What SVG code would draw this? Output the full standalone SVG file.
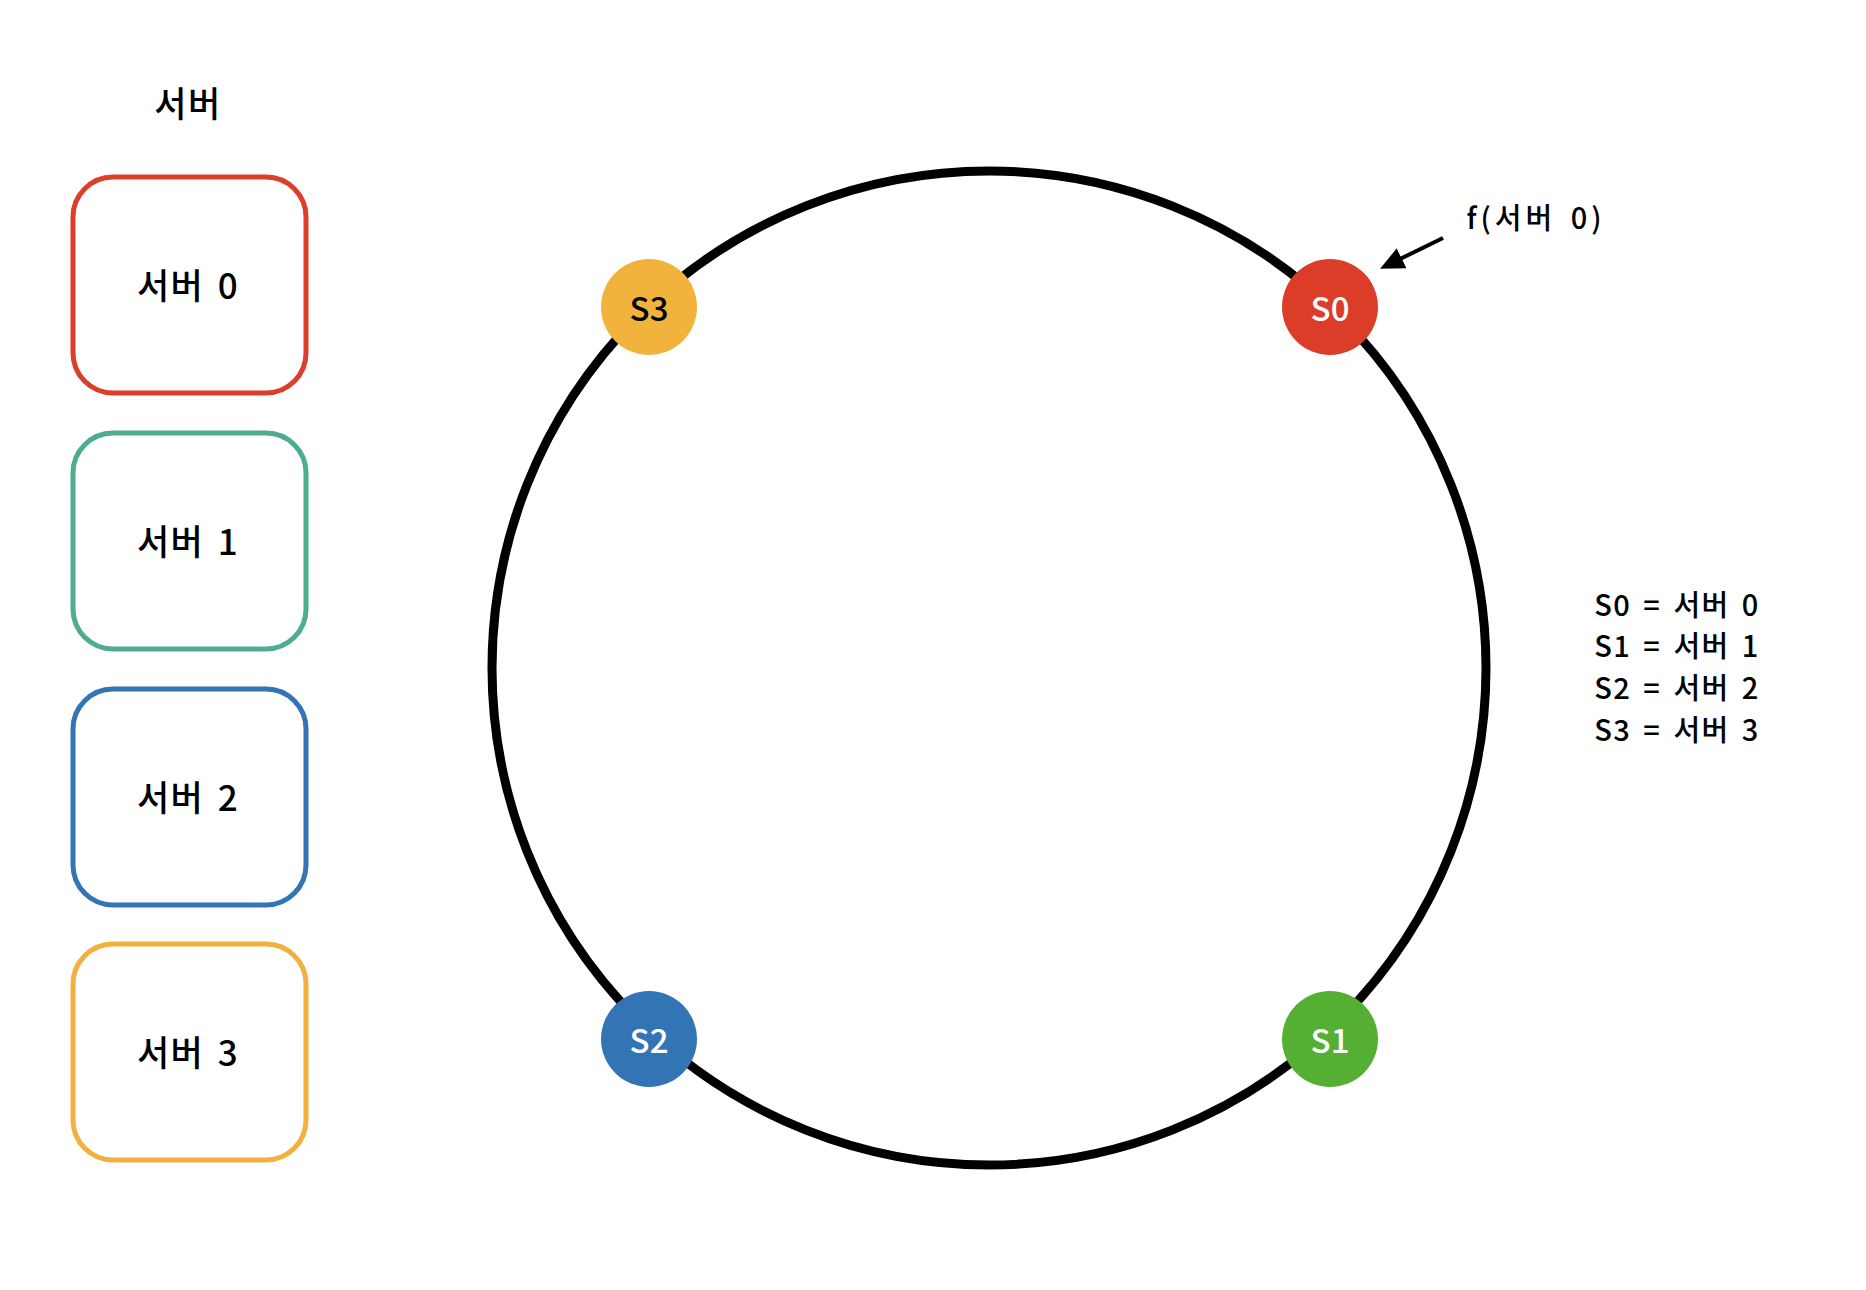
<svg xmlns="http://www.w3.org/2000/svg" width="1866" height="1290" viewBox="0 0 1866 1290">
<style>
text { font-family: "Noto Sans CJK KR", "Noto Sans", sans-serif; fill: #000; text-anchor: middle; dominant-baseline: central; font-weight: 500; }
.box { fill: #fff; stroke-width: 5; }
.lbl { font-size: 35px; letter-spacing: 1.5px; word-spacing: 4px; }
.node-lbl { font-size: 33px; }
.legend { font-size: 29px; letter-spacing: 1.5px; word-spacing: 4px; }
.ring { fill: none; stroke: #000; stroke-width: 9; }
.conn { stroke: #000; stroke-width: 4; fill: none; }
</style>
<defs>
<marker id="arrow" viewBox="0 0 24 22" refX="4" refY="11" markerWidth="24" markerHeight="22" markerUnits="userSpaceOnUse" orient="auto">
<path d="M0,0 L24,11 L0,22 z" fill="#000"/>
</marker>
</defs>
<rect width="1866" height="1290" fill="#fff"/>
<text id="title" x="188" y="101" class="lbl">서버</text>
<g id="box0"><rect class="box" x="73" y="177" width="233" height="216" rx="40" stroke="#DB3E2A"/><text x="188" y="283" class="lbl">서버 0</text></g>
<g id="box1"><rect class="box" x="73" y="433" width="233" height="216" rx="40" stroke="#4EAC91"/><text x="188" y="539" class="lbl">서버 1</text></g>
<g id="box2"><rect class="box" x="73" y="689" width="233" height="216" rx="40" stroke="#3374B5"/><text x="188" y="795" class="lbl">서버 2</text></g>
<g id="box3"><rect class="box" x="73" y="944" width="233" height="216" rx="40" stroke="#F2B13F"/><text x="188" y="1050" class="lbl">서버 3</text></g>
<g id="ring"><circle class="ring" cx="989" cy="668" r="497"/></g>
<g id="connectors"><line class="conn" x1="1443" y1="238" x2="1398" y2="260" marker-end="url(#arrow)"/></g>
<g id="s0"><circle cx="1330" cy="307" r="48" fill="#DB3D28"/><text x="1330" y="307" class="node-lbl" style="fill:#fff">S0</text></g>
<g id="s3"><circle cx="649" cy="307" r="48" fill="#F2B33D"/><text x="649" y="307" class="node-lbl">S3</text></g>
<g id="s2"><circle cx="649" cy="1039" r="48" fill="#3374B5"/><text x="649" y="1039" class="node-lbl" style="fill:#fff">S2</text></g>
<g id="s1"><circle cx="1330" cy="1039" r="48" fill="#55AF33"/><text x="1330" y="1039" class="node-lbl" style="fill:#fff">S1</text></g>
<text id="f-label" x="1536" y="216" class="legend" style="letter-spacing:4px">f(서버 0)</text>
<g id="legend">
<text x="1677" y="603" class="legend">S0 = 서버 0</text>
<text x="1677" y="644" class="legend">S1 = 서버 1</text>
<text x="1677" y="686" class="legend">S2 = 서버 2</text>
<text x="1677" y="728" class="legend">S3 = 서버 3</text>
</g>
</svg>
